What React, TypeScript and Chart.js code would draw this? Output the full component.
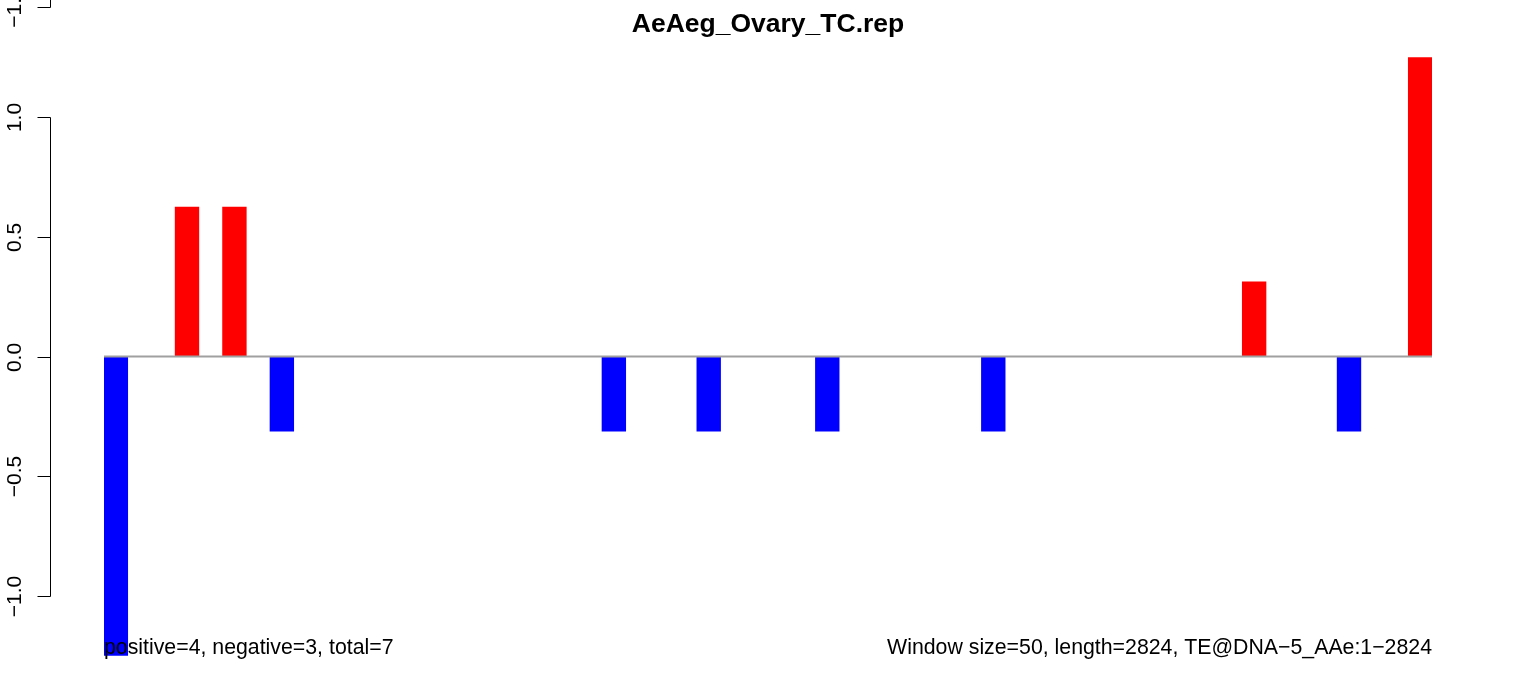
import React, { useEffect, useRef } from "react";
import { Chart, registerables } from "chart.js";

Chart.register(...registerables);

// Window labels (56 windows of 50 bp over 2824 bp)
const windowLabels = [
  "1", "2", "3", "4", "5", "6", "7", "8", "9", "10",
  "11", "12", "13", "14", "15", "16", "17", "18", "19", "20",
  "21", "22", "23", "24", "25", "26", "27", "28", "29", "30",
  "31", "32", "33", "34", "35", "36", "37", "38", "39", "40",
  "41", "42", "43", "44", "45", "46", "47", "48", "49", "50",
  "51", "52", "53", "54", "55", "56",
];

// Value per window
const windowValues = [
  -1.25, 0, 0, 0.625, 0, 0.625, 0, -0.3125, 0, 0,
  0, 0, 0, 0, 0, 0, 0, 0, 0, 0,
  0, -0.3125, 0, 0, 0, -0.3125, 0, 0, 0, 0,
  -0.3125, 0, 0, 0, 0, 0, 0, -0.3125, 0, 0,
  0, 0, 0, 0, 0, 0, 0, 0, 0.3125, 0,
  0, 0, -0.3125, 0, 0, 1.25,
];

const yTickValues = [-1, -0.5, 0, 0.5, 1];
const yTickLabels = ["\u22121.0", "\u22120.5", "0.0", "0.5", "1.0"];

const titleText = "AeAeg_Ovary_TC.rep";
const leftNote = "positive=4, negative=3, total=7";
const rightNote = "Window size=50, length=2824, TE@DNA\u22125_AAe:1\u22122824";

const FONT = "'Liberation Sans', Arial, Helvetica, sans-serif";

const positiveValues = windowValues.map((v) => (v > 0 ? v : null));
const negativeValues = windowValues.map((v) => (v < 0 ? v : null));

const decorPlugin = {
  id: "rDecor",
  afterDatasetsDraw(chart: any) {
    const { ctx, chartArea, scales } = chart;
    const y0 = scales.y.getPixelForValue(0);
    ctx.save();
    ctx.strokeStyle = "#a0a0a0";
    ctx.lineWidth = 2;
    ctx.beginPath();
    ctx.moveTo(chartArea.left, y0);
    ctx.lineTo(chartArea.right, y0);
    ctx.stroke();
    ctx.restore();
  },
  afterDraw(chart: any) {
    const { ctx, scales } = chart;
    const ys = scales.y;
    const axisX = 50.5;
    const tickLen = 13;
    ctx.save();
    ctx.strokeStyle = "#000";
    ctx.lineWidth = 1;
    ctx.fillStyle = "#000";

    // axis line
    const yTop = Math.round(ys.getPixelForValue(yTickValues[yTickValues.length - 1])) + 0.5;
    const yBot = Math.round(ys.getPixelForValue(yTickValues[0])) + 0.5;
    ctx.beginPath();
    ctx.moveTo(axisX, yTop);
    ctx.lineTo(axisX, yBot);
    ctx.stroke();

    ctx.font = `21px ${FONT}`;
    ctx.textAlign = "center";
    ctx.textBaseline = "alphabetic";
    yTickValues.forEach((v, i) => {
      const py = Math.round(ys.getPixelForValue(v)) + 0.5;
      ctx.beginPath();
      ctx.moveTo(axisX - tickLen, py);
      ctx.lineTo(axisX, py);
      ctx.stroke();
      ctx.save();
      ctx.translate(21, py);
      ctx.rotate(-Math.PI / 2);
      ctx.fillText(yTickLabels[i], 0, 0);
      ctx.restore();
    });

    // fragment of the panel above (cut-off axis end)
    ctx.beginPath();
    ctx.moveTo(axisX, 0);
    ctx.lineTo(axisX, 7.5);
    ctx.moveTo(axisX - tickLen, 7.5);
    ctx.lineTo(axisX, 7.5);
    ctx.stroke();
    ctx.save();
    ctx.translate(21, 7);
    ctx.rotate(-Math.PI / 2);
    ctx.fillText("\u22121.0", 0, 0);
    ctx.restore();

    // title
    ctx.font = `bold 26.5px ${FONT}`;
    ctx.textAlign = "center";
    ctx.fillText(titleText, 768, 32);

    // notes
    ctx.font = `21.3px ${FONT}`;
    ctx.textAlign = "left";
    ctx.fillText(leftNote, chart.chartArea.left, 654);
    ctx.textAlign = "right";
    ctx.fillText(rightNote, chart.chartArea.right, 654);
    ctx.restore();
  },
};

export default function App() {
  const canvasRef = useRef<HTMLCanvasElement | null>(null);

  useEffect(() => {
    if (!canvasRef.current) return;
    const chart = new Chart(canvasRef.current, {
      type: "bar",
      data: {
        labels: windowLabels,
        datasets: [
          {
            label: "positive",
            data: positiveValues as any,
            backgroundColor: "#ff0000",
            borderWidth: 0,
            barPercentage: 1,
            categoryPercentage: 1,
            grouped: false,
          } as any,
          {
            label: "negative",
            data: negativeValues as any,
            backgroundColor: "#0000ff",
            borderWidth: 0,
            barPercentage: 1,
            categoryPercentage: 1,
            grouped: false,
          } as any,
        ],
      },
      options: {
        animation: false,
        responsive: false,
        maintainAspectRatio: false,
        devicePixelRatio: 1,
        layout: { padding: { left: 104, right: 104, top: 36, bottom: 0 } },
        scales: {
          x: { display: false, offset: true },
          y: { display: false, min: -1.34, max: 1.34 },
        },
        plugins: {
          legend: { display: false },
          tooltip: { enabled: false },
          title: { display: false },
        },
      },
      plugins: [decorPlugin],
    });
    return () => chart.destroy();
  }, []);

  return (
    <div style={{ position: "absolute", left: 0, top: 0, width: 1536, height: 677, background: "#fff" }}>
      <canvas ref={canvasRef} width={1536} height={677} style={{ display: "block" }} />
    </div>
  );
}
